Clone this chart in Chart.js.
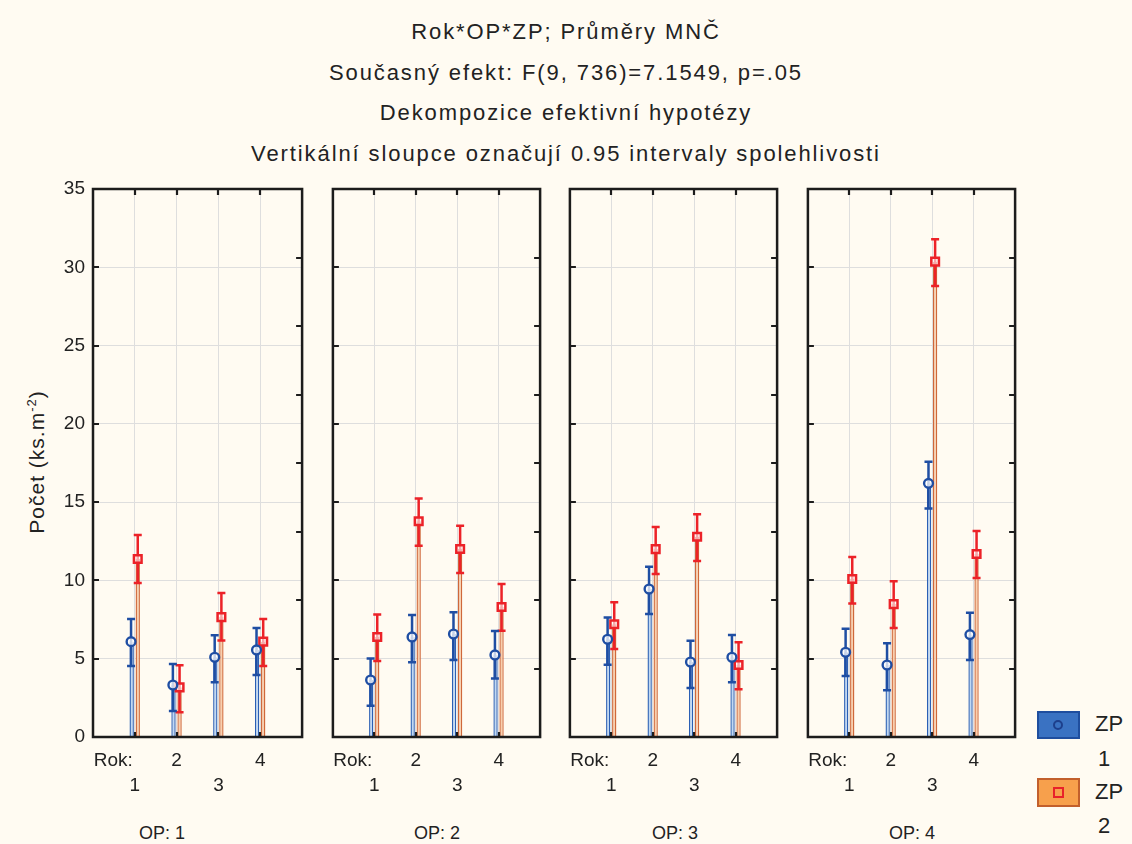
<!DOCTYPE html>
<html>
<head>
<meta charset="utf-8">
<script src="https://cdn.jsdelivr.net/npm/chart.js@4/dist/chart.umd.min.js"></script>
<style>
  html, body { margin: 0; padding: 0; }
  body { width: 1132px; height: 844px; background: #fffbf2; position: relative; overflow: hidden;
         font-family: "Liberation Sans", Arial, sans-serif; color: #222; }
  .title { position: absolute; left: 0; width: 1132px; text-align: center; font-size: 22px; line-height: 24px;
           letter-spacing: 1.9px; }
  canvas.panel { position: absolute; top: 180px; }
  .op { position: absolute; top: 821px; font-size: 18px; line-height: 24px; transform: translateX(-50%); white-space: nowrap; }
  .ylab { position: absolute; left: 36px; top: 462px; font-size: 21px; letter-spacing: 1px; white-space: nowrap;
          transform: translate(-50%, -50%) rotate(-90deg); }
  .ylab sup { font-size: 13px; }
  .lgbox { position: absolute; left: 1037px; width: 43px; box-sizing: border-box; }
  .lgtxt { position: absolute; font-size: 22px; line-height: 26px; }
</style>
</head>
<body>
<div class="title" style="top:20px">Rok*OP*ZP; Průměry MNČ</div>
<div class="title" style="top:61px">Současný efekt: F(9, 736)=7.1549, p=.05</div>
<div class="title" style="top:101px">Dekompozice efektivní hypotézy</div>
<div class="title" style="top:142px">Vertikální sloupce označují 0.95 intervaly spolehlivosti</div>
<div class="ylab">Počet (ks.m<sup>-2</sup>)</div>

<canvas class="panel" id="p0"></canvas>
<canvas class="panel" id="p1"></canvas>
<canvas class="panel" id="p2"></canvas>
<canvas class="panel" id="p3"></canvas>

<div class="op" style="left:162px">OP: 1</div>
<div class="op" style="left:437px">OP: 2</div>
<div class="op" style="left:675px">OP: 3</div>
<div class="op" style="left:912px">OP: 4</div>

<div class="lgbox" style="top:711px;height:28px;background:#3a72c2;border:2px solid #1f4e9e;"></div>
<div style="position:absolute;left:1053px;top:720px;width:10px;height:10px;border:2px solid #1d3f8c;border-radius:50%;box-sizing:border-box;"></div>
<div class="lgtxt" style="left:1095px;top:711px">ZP</div>
<div class="lgtxt" style="left:1098px;top:746px">1</div>
<div class="lgbox" style="top:778px;height:29px;background:#f7a04c;border:2px solid #c25f2c;"></div>
<div style="position:absolute;left:1053px;top:787px;width:11px;height:11px;border:2.5px solid #e8222a;box-sizing:border-box;"></div>
<div class="lgtxt" style="left:1095px;top:779px">ZP</div>
<div class="lgtxt" style="left:1098px;top:813px">2</div>

<script>
// Years on the x axis of every panel
const years = [1, 2, 3, 4];
const yearAxisName = 'Rok:';
// Y axis tick values
const yTicks = [0, 5, 10, 15, 20, 25, 30, 35];

// ZP 1: least-squares means per OP (one row per panel) and year, with 95% CI bounds
const zp1Mean = [
  [6.09, 3.32, 5.09, 5.56],
  [3.64, 6.39, 6.58, 5.24],
  [6.24, 9.45, 4.79, 5.09],
  [5.41, 4.60, 16.20, 6.54]
];
const zp1Low = [
  [4.53, 1.66, 3.49, 3.96],
  [2.00, 4.77, 4.92, 3.73],
  [4.62, 7.86, 3.13, 3.49],
  [3.90, 2.98, 14.60, 4.92]
];
const zp1High = [
  [7.54, 4.66, 6.50, 6.96],
  [5.02, 7.79, 7.96, 6.77],
  [7.64, 10.88, 6.15, 6.51],
  [6.92, 5.98, 17.58, 7.94]
];

// ZP 2: least-squares means and 95% CI bounds
const zp2Mean = [
  [11.37, 3.17, 7.66, 6.09],
  [6.39, 13.78, 12.01, 8.30],
  [7.20, 12.00, 12.79, 4.60],
  [10.09, 8.49, 30.36, 11.69]
];
const zp2Low = [
  [9.83, 1.58, 6.17, 4.53],
  [4.85, 12.22, 10.47, 6.79],
  [5.62, 10.41, 11.24, 3.05],
  [8.52, 6.96, 28.80, 10.16]
];
const zp2High = [
  [12.90, 4.58, 9.20, 7.54],
  [7.83, 15.24, 13.50, 9.77],
  [8.60, 13.41, 14.22, 6.05],
  [11.50, 9.94, 31.79, 13.16]
];

// Panel geometry (page pixels)
const plotLeft = [93, 331, 568, 806];
const plotWidth = 211;
const padRight = 6;
const xAxisHeight = 63;

const BLUE = '#1f4ea3';
const RED = '#ec2228';

// Horizontal offsets of the two series around each year tick (axis units)
const off = { zp1Bar: -0.075, zp2Bar: 0.07, zp1Pt: -0.09, zp2Pt: 0.07 };

function pts(values, dx) {
  return years.map((yr, i) => ({ x: yr + dx, y: values[i] }));
}

// Error bars: drawn just before each marker dataset, on top of the bars
const errorBars = {
  id: 'errorBars',
  beforeDatasetDraw(chart, args) {
    const ds = chart.data.datasets[args.index];
    if (!ds.ci) return;
    const { ctx, scales: { x, y } } = chart;
    ctx.save();
    ctx.strokeStyle = ds.borderColor;
    ctx.lineWidth = 2.5;
    ctx.lineCap = 'butt';
    ds.ci.low.forEach((lo, i) => {
      const px = x.getPixelForValue(ds.data[i].x);
      const pl = y.getPixelForValue(lo);
      const ph = y.getPixelForValue(ds.ci.high[i]);
      ctx.beginPath();
      ctx.moveTo(px, pl); ctx.lineTo(px, ph);
      ctx.moveTo(px - 4, pl); ctx.lineTo(px + 4, pl);
      ctx.moveTo(px - 4, ph); ctx.lineTo(px + 4, ph);
      ctx.stroke();
    });
    ctx.restore();
  }
};

// Frame, inward tick marks and staggered year labels
const frame = {
  id: 'frame',
  afterDraw(chart) {
    const { ctx, chartArea: a, scales: { x, y } } = chart;
    ctx.save();
    ctx.strokeStyle = '#1c1c1c';
    ctx.lineWidth = 2.5;
    ctx.strokeRect(a.left, a.top, a.right - a.left, a.bottom - a.top);
    ctx.lineWidth = 2.2;
    ctx.beginPath();
    years.forEach(v => {
      const px = Math.round(x.getPixelForValue(v));
      ctx.moveTo(px, a.top); ctx.lineTo(px, a.top + 6);
      ctx.moveTo(px, a.bottom); ctx.lineTo(px, a.bottom - 5);
    });
    yTicks.slice(1, -1).forEach(v => {
      const py = Math.round(y.getPixelForValue(v));
      ctx.moveTo(a.left, py); ctx.lineTo(a.left + 6, py);
    });
    // right-hand axis is divided into eight equal parts
    for (let k = 1; k < 8; k++) {
      const py = Math.round(a.bottom - (a.bottom - a.top) * k / 8);
      ctx.moveTo(a.right, py); ctx.lineTo(a.right - 6, py);
    }
    ctx.stroke();

    ctx.fillStyle = '#222';
    ctx.font = '19px "Liberation Sans", Arial, sans-serif';
    ctx.textBaseline = 'middle';
    const row1 = a.bottom + 24, row2 = a.bottom + 49;
    ctx.textAlign = 'right';
    ctx.fillText(yearAxisName, x.getPixelForValue(years[0]) - 2, row1);
    ctx.textAlign = 'center';
    years.forEach((v, i) => {
      ctx.fillText(String(v), x.getPixelForValue(v), i % 2 === 0 ? row2 : row1);
    });
    ctx.restore();
  }
};

function makePanel(p) {
  const yWidth = p === 0 ? plotLeft[0] : 6;
  const canvas = document.getElementById('p' + p);
  const w = yWidth + plotWidth + padRight;
  canvas.width = w; canvas.height = 620;
  canvas.style.left = (plotLeft[p] - yWidth) + 'px';

  new Chart(canvas, {
    type: 'bar',
    data: {
      datasets: [
        { type: 'line', label: 'ZP 1', data: pts(zp1Mean[p], off.zp1Pt), showLine: false,
          pointStyle: 'circle', pointRadius: 4.4, pointBorderWidth: 2.4,
          borderColor: BLUE, pointBackgroundColor: 'rgba(255,255,255,0.75)',
          ci: { low: zp1Low[p], high: zp1High[p] }, order: 1 },
        { type: 'line', label: 'ZP 2', data: pts(zp2Mean[p], off.zp2Pt), showLine: false,
          pointStyle: 'rect', pointRadius: 5.4, pointBorderWidth: 2.5,
          borderColor: RED, pointBackgroundColor: 'rgba(255,255,255,0.6)',
          ci: { low: zp2Low[p], high: zp2High[p] }, order: 1 },
        { label: 'ZP 1 bar', data: pts(zp1Mean[p], off.zp1Bar), grouped: false,
          maxBarThickness: 6, backgroundColor: '#c0d8f3', borderColor: '#2b5fb4',
          borderWidth: { left: 1.4, right: 1.4, top: 0, bottom: 0 }, borderSkipped: false, order: 2 },
        { label: 'ZP 2 bar', data: pts(zp2Mean[p], off.zp2Bar), grouped: false,
          maxBarThickness: 6, backgroundColor: '#f8cfae', borderColor: '#cf683a',
          borderWidth: { left: 1.4, right: 1.4, top: 0, bottom: 0 }, borderSkipped: false, order: 2 }
      ]
    },
    options: {
      responsive: false,
      animation: false,
      devicePixelRatio: 1,
      layout: { padding: { top: 9, right: padRight, bottom: 0, left: 0 } },
      plugins: { legend: { display: false }, tooltip: { enabled: false } },
      scales: {
        x: {
          type: 'linear', min: 0, max: 5, offset: false,
          afterBuildTicks: axis => { axis.ticks = years.map(v => ({ value: v })); },
          afterFit: axis => { axis.height = xAxisHeight; axis.paddingLeft = 0; axis.paddingRight = 0; },
          ticks: { display: false },
          grid: { color: '#dedede', lineWidth: 1, drawTicks: false, offset: false },
          border: { display: false }
        },
        y: {
          type: 'linear', min: 0, max: 35,
          afterBuildTicks: axis => { axis.ticks = yTicks.map(v => ({ value: v })); },
          afterFit: axis => { axis.width = yWidth; axis.paddingTop = 0; axis.paddingBottom = 0; },
          ticks: { display: p === 0, padding: 8, color: '#222',
                   font: { family: '"Liberation Sans", Arial, sans-serif', size: 19 } },
          grid: { color: '#dedede', lineWidth: 1, drawTicks: false },
          border: { display: false }
        }
      }
    },
    plugins: [errorBars, frame]
  });
}

[0, 1, 2, 3].forEach(makePanel);
</script>
</body>
</html>
